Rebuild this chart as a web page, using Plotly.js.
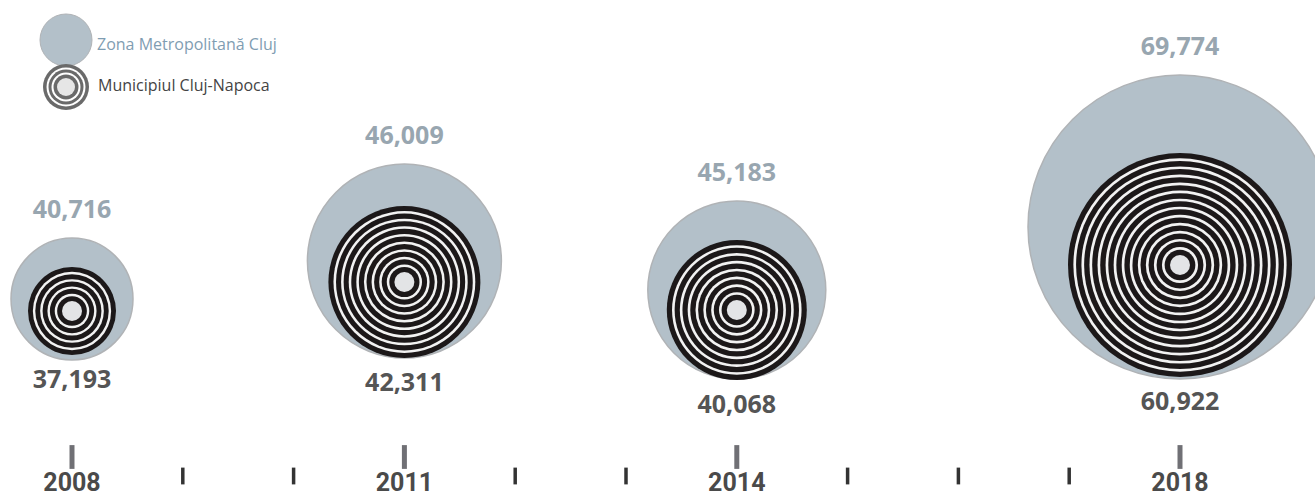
<!DOCTYPE html>
<html>
<head>
<meta charset="utf-8">
<script src="https://cdn.plot.ly/plotly-3.0.1.min.js"></script>
<style>
  html, body { margin: 0; padding: 0; background: #ffffff; }
  #chart { width: 1315px; height: 498px; }
</style>
</head>
<body>
<div id="chart"></div>
<script>
// ---- data ----
const years = [2008, 2011, 2014, 2018];
const metroPop = [40716, 46009, 45183, 69774];   // Zona Metropolitană Cluj
const cityPop = [37193, 42311, 40068, 60922];    // Municipiul Cluj-Napoca
const axisYears = [2008, 2009, 2010, 2011, 2012, 2013, 2014, 2015, 2016, 2017, 2018];
const yearLabels = ['2008', '2011', '2014', '2018'];
const legendNames = ['Zona Metropolitană Cluj', 'Municipiul Cluj-Napoca'];

// ---- styling / layout (pixels) ----
const greyR = [61, 97, 89, 152];
const greyCy = [299, 261, 290, 227];
const blackR = [44, 76, 70, 112];
const blackCy = [311, 282, 310, 265];
const ringCounts = [4, 8, 7, 12];
const dotR = 10;

const GREY = '#b3c0c9';
const GREY_LINE = '#b0b3b6';
const BLACK = '#1c1819';
const WHITE = '#f2f2f2';
const DOT = '#e3e4e6';

const fmt = v => v.toLocaleString('en-US');

// ring markers
const rx = [], ry = [], rs = [], rc = [];
years.forEach((yr, i) => {
  const n = ringCounts[i];
  const w = (blackR[i] - dotR) / (3 * n + 2);
  const b = 2 * w;
  let rad = blackR[i];
  for (let k = 0; k < n; k++) {
    rx.push(yr); ry.push(blackCy[i]); rs.push(2 * rad); rc.push(BLACK);
    rad -= b;
    rx.push(yr); ry.push(blackCy[i]); rs.push(2 * rad); rc.push(WHITE);
    rad -= w;
  }
  rx.push(yr); ry.push(blackCy[i]); rs.push(2 * rad); rc.push(BLACK);
  rx.push(yr); ry.push(blackCy[i]); rs.push(2 * dotR); rc.push(DOT);
});

const minorYears = axisYears.filter(y => !years.includes(y));

const traces = [
  { // metropolitan area circles
    type: 'scatter', mode: 'markers', x: years, y: greyCy,
    marker: { size: greyR.map(r => 2 * r), color: GREY, line: { color: GREY_LINE, width: 1.5 }, opacity: 1 },
    hoverinfo: 'skip'
  },
  { // city concentric rings
    type: 'scatter', mode: 'markers', x: rx, y: ry,
    marker: { size: rs, color: rc, line: { width: 0 }, opacity: 1 },
    hoverinfo: 'skip'
  },
  { // metro values
    type: 'scatter', mode: 'text', x: years,
    y: years.map((_, i) => greyCy[i] - greyR[i] - 26),
    text: metroPop.map(fmt), textposition: 'middle center',
    textfont: { family: 'Open Sans, sans-serif', size: 25, color: '#98a6b0', weight: 700 },
    hoverinfo: 'skip'
  },
  { // city values
    type: 'scatter', mode: 'text', x: years,
    y: years.map((_, i) => blackCy[i] + blackR[i] + 27),
    text: cityPop.map(fmt), textposition: 'middle center',
    textfont: { family: 'Open Sans, sans-serif', size: 25, color: '#555555', weight: 700 },
    hoverinfo: 'skip'
  },
  { // major ticks
    type: 'scatter', mode: 'markers', x: years, y: years.map(() => 457),
    marker: { symbol: 'line-ns', size: 17, line: { color: '#707075', width: 5 } },
    hoverinfo: 'skip'
  },
  { // minor ticks
    type: 'scatter', mode: 'markers', x: minorYears, y: minorYears.map(() => 476),
    marker: { symbol: 'line-ns', size: 12, line: { color: '#333333', width: 3.5 } },
    hoverinfo: 'skip'
  },
  { // year labels
    type: 'scatter', mode: 'text', x: years, y: years.map(() => 485),
    text: yearLabels, textposition: 'middle center',
    textfont: { family: 'Roboto, sans-serif', size: 25, color: '#4a4a4a', weight: 700 },
    hoverinfo: 'skip'
  }
];

// x axis: 2008 -> 72px, 2018 -> 1180px
const pxPerYear = (1180 - 72) / 10;
const x0 = 2008 - 72 / pxPerYear;
const x1 = x0 + 1315 / pxPerYear;

// legend icons as shapes in pixel size
const W = 1315, H = 498;
const legendShapes = [];
const circ = (cx, cy, r, fill, line) => ({
  type: 'circle', xref: 'paper', yref: 'paper',
  xsizemode: 'pixel', ysizemode: 'pixel',
  xanchor: cx / W, yanchor: 1 - cy / H,
  x0: -r, x1: r, y0: -r, y1: r,
  fillcolor: fill, line: line || { width: 0 }, layer: 'above'
});
legendShapes.push(circ(66, 40, 26, GREY, { color: GREY_LINE, width: 1 }));
[[23, '#6a6a6a'], [19.5, '#ffffff'], [17.5, '#6a6a6a'], [14.5, '#ffffff'], [12.5, '#6a6a6a'], [9, '#e6e6e6']]
  .forEach(([r, c]) => legendShapes.push(circ(66, 87, r, c)));

const layout = {
  width: W, height: H,
  margin: { l: 0, r: 0, t: 0, b: 0 },
  paper_bgcolor: '#ffffff', plot_bgcolor: '#ffffff',
  showlegend: false,
  xaxis: { range: [x0, x1], visible: false, fixedrange: true },
  yaxis: { range: [H, 0], visible: false, fixedrange: true },
  shapes: legendShapes,
  annotations: [
    { xref: 'paper', yref: 'paper', x: 95 / W, y: 1 - 44 / H, xanchor: 'left', yanchor: 'middle',
      text: legendNames[0], showarrow: false,
      font: { family: 'Open Sans, sans-serif', size: 16, color: '#7f9db2' } },
    { xref: 'paper', yref: 'paper', x: 96 / W, y: 1 - 85 / H, xanchor: 'left', yanchor: 'middle',
      text: legendNames[1], showarrow: false,
      font: { family: 'Open Sans, sans-serif', size: 16, color: '#444444' } }
  ]
};

Plotly.newPlot('chart', traces, layout, { staticPlot: true, displayModeBar: false });
</script>
</body>
</html>
